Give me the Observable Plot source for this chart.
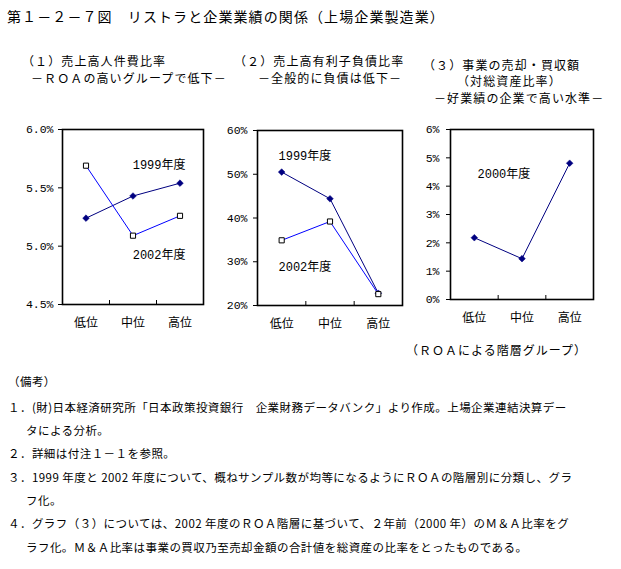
<!DOCTYPE html>
<html><head><meta charset="utf-8">
<script src="https://cdn.jsdelivr.net/npm/d3@7"></script>
<script src="https://cdn.jsdelivr.net/npm/@observablehq/plot@0.6"></script>
<style>
body{margin:0;background:#fff;}
#wrap{position:relative;width:621px;height:569px;overflow:hidden;font-family:"Liberation Mono","Noto Sans CJK JP",sans-serif;color:#000;background:#fff;}
.t{position:absolute;white-space:nowrap;line-height:1;}
.p{position:absolute;}
</style></head><body><div id="wrap"></div>
<script>
// ---- data ----
const categories = ["低位", "中位", "高位"];
const laborCost1999 = [5.24, 5.43, 5.54];
const laborCost2002 = [5.69, 5.09, 5.26];
const debt1999 = [50.5, 44.4, 22.8];
const debt2002 = [34.9, 39.2, 22.6];
const ma2000 = [2.18, 1.44, 4.81];
const ticksLabor = [4.5, 5.0, 5.5, 6.0];
const ticksDebt = [20, 30, 40, 50, 60];
const ticksMA = [0, 1, 2, 3, 4, 5, 6];

const title = "第１－２－７図　リストラと企業業績の関係（上場企業製造業）";
const notes = [
  "（備考）",
  "１．(財)日本経済研究所「日本政策投資銀行　企業財務データバンク」より作成。上場企業連結決算デー",
  "タによる分析。",
  "２．詳細は付注１－１を参照。",
  "３．1999 年度と 2002 年度について、概ねサンプル数が均等になるようにＲＯＡの階層別に分類し、グラ",
  "フ化。",
  "４．グラフ（３）については、2002 年度のＲＯＡ階層に基づいて、２年前（2000 年）のＭ＆Ａ比率をグ",
  "ラフ化。Ｍ＆Ａ比率は事業の買収乃至売却金額の合計値を総資産の比率をとったものである。"
];

const wrap = document.getElementById("wrap");
function addText(str, x, yc, size, extra) {
  const d = document.createElement("div");
  d.className = "t";
  d.textContent = str;
  d.style.left = x + "px";
  d.style.top = (yc - size / 2) + "px";
  d.style.fontSize = size + "px";
  if (extra) Object.assign(d.style, extra);
  wrap.appendChild(d);
}

// title & headings
addText(title, 7, 18, 14, {letterSpacing: "1.1px"});
const hs = {letterSpacing: "1.1px"};
addText("（１）売上高人件費比率", 22, 63, 12, hs);
addText("－ＲＯＡの高いグループで低下－", 31, 80, 12, hs);
addText("（２）売上高有利子負債比率", 234, 63, 12, hs);
addText("－全般的に負債は低下－", 258, 80, 12, hs);
addText("（３）事業の売却・買収額", 423, 67, 12, hs);
addText("（対総資産比率）", 457, 83, 12, hs);
addText("－好業績の企業で高い水準－", 434, 100, 12, hs);
addText("（ＲＯＡによる階層グループ）", 406, 352, 12, {letterSpacing: "1px"});

// notes
const noteY = [382, 408, 431, 454, 478, 501, 524, 548];
const noteX = [8, 8, 26, 8, 8, 26, 8, 26];
notes.forEach((n, i) => addText(n, noteX[i], noteY[i], 11.5, {letterSpacing: "0.45px", fontFamily: '"Noto Sans CJK JP",sans-serif'}));

function panel({left, top, width, height, mt, mr, mb, ml, ticks, fmt, series, labels, ypad}) {
  const frameH = height - mt - mb;
  const marks = [
    Plot.axisY({ticks, tickFormat: fmt, tickSize: 4, tickPadding: ypad, fontSize: 11.5, label: null}),
    Plot.axisX({ticks: [0, 1, 2], tickFormat: i => categories[i], tickSize: 0, tickPadding: 14, fontSize: 12, label: null}),
    Plot.ruleX([0.5, 1.5], {insetTop: frameH - 4, stroke: "black"})
  ];
  for (const s of series) {
    const rows = categories.map((c, i) => ({i, v: s.values[i]}));
    marks.push(Plot.line(rows, {x: "i", y: "v", stroke: s.color, strokeWidth: 1}));
  }
  for (const s of series) {
    const rows = categories.map((c, i) => ({i, v: s.values[i]}));
    if (s.symbol === "diamond2")
      marks.push(Plot.dot(rows, {x: "i", y: "v", symbol: "diamond2", r: 3, fill: "#000080", stroke: "#000080", strokeWidth: 0.5}));
    else
      marks.push(Plot.dot(rows, {x: "i", y: "v", symbol: "square", r: 2.9, fill: "white", stroke: "black", strokeWidth: 1}));
  }
  for (const l of labels) {
    marks.push(Plot.text([l.text], {text: d => d, frameAnchor: l.anchor, textAnchor: l.ta, lineAnchor: "middle", dx: l.dx, dy: l.dy, fontSize: 12, fill: "black"}));
  }
  marks.push(Plot.frame({stroke: "black", strokeWidth: 1.6}));
  const svg = Plot.plot({
    width, height, marginTop: mt, marginRight: mr, marginBottom: mb, marginLeft: ml,
    style: {fontFamily: '"Liberation Mono","Noto Sans CJK JP",sans-serif', background: "transparent", overflow: "visible", color: "black"},
    x: {type: "linear", domain: [-0.5, 2.5]},
    y: {domain: [d3.min(ticks), d3.max(ticks)]},
    marks
  });
  const holder = document.createElement("div");
  holder.className = "p";
  holder.style.left = left + "px";
  holder.style.top = top + "px";
  holder.appendChild(svg);
  wrap.appendChild(holder);
}

panel({
  left: 0, top: 115, width: 210, height: 230, mt: 14, mr: 7, mb: 41, ml: 62,
  ticks: ticksLabor, fmt: d => d.toFixed(1) + "%", ypad: 5,
  series: [
    {values: laborCost1999, color: "#000080", symbol: "diamond2"},
    {values: laborCost2002, color: "#0000ff", symbol: "square"}
  ],
  labels: [
    {text: "1999年度", anchor: "top-right", ta: "end", dx: -18, dy: 36},
    {text: "2002年度", anchor: "top-right", ta: "end", dx: -18, dy: 126}
  ]
});

panel({
  left: 205, top: 115, width: 210, height: 230, mt: 15, mr: 13, mb: 40, ml: 52,
  ticks: ticksDebt, fmt: d => d + "%", ypad: 6,
  series: [
    {values: debt1999, color: "#000080", symbol: "diamond2"},
    {values: debt2002, color: "#0000ff", symbol: "square"}
  ],
  labels: [
    {text: "1999年度", anchor: "top-left", ta: "start", dx: 21, dy: 26},
    {text: "2002年度", anchor: "top-left", ta: "start", dx: 21, dy: 137}
  ]
});

panel({
  left: 405, top: 115, width: 216, height: 220, mt: 14, mr: 28, mb: 36, ml: 45,
  ticks: ticksMA, fmt: d => d + "%", ypad: 7,
  series: [
    {values: ma2000, color: "#000080", symbol: "diamond2"}
  ],
  labels: [
    {text: "2000年度", anchor: "top-left", ta: "start", dx: 27, dy: 45}
  ]
});
</script>
</body></html>
